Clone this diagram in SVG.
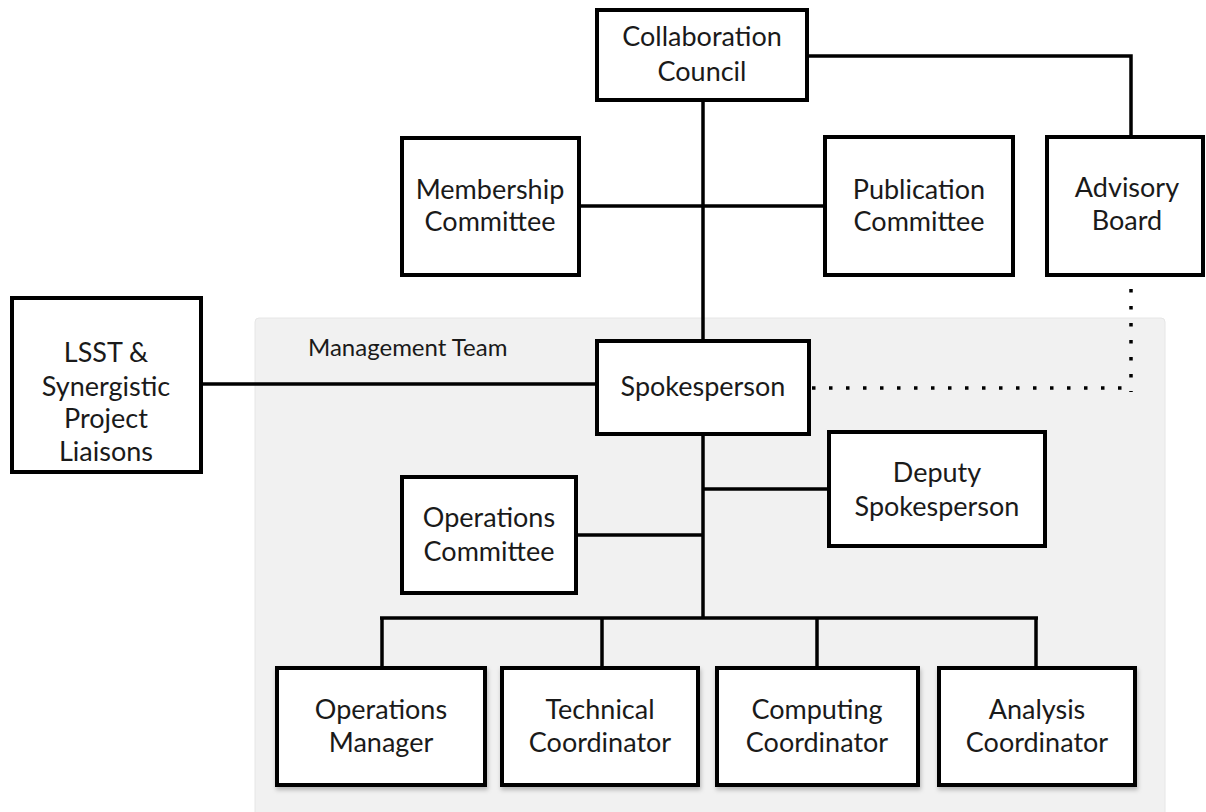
<svg xmlns="http://www.w3.org/2000/svg" width="1206" height="812" viewBox="0 0 1206 812">
<defs>
<style>
.box{fill:#fff;stroke:#000;stroke-width:4}
.t{font-family:Lato,"Noto Sans","Liberation Sans",sans-serif;font-size:27px;fill:#1a1a1a;text-anchor:middle}
.lbl{font-family:Lato,"Noto Sans","Liberation Sans",sans-serif;font-size:24px;fill:#1a1a1a}
.ln{stroke:#000;stroke-width:3.5;fill:none}
.dot{stroke:#000;stroke-width:3.5;fill:none;stroke-dasharray:3.5 13.5}
</style>
<filter id="sh" x="-5%" y="-5%" width="115%" height="120%">
<feDropShadow dx="1" dy="3" stdDeviation="2" flood-color="#000" flood-opacity="0.25"/>
</filter>
</defs>
<rect width="1206" height="812" fill="#fff"/>
<g id="management-team">
<rect x="255" y="318" width="910" height="500" rx="4" fill="#f1f1f1" stroke="#e6e6e6" stroke-width="1"/>
<text class="lbl" x="308" y="356">Management Team</text>
</g>
<g id="connectors">
<polyline class="ln" points="807,56 1131,56 1131,137"/>
<line class="ln" x1="703" y1="100" x2="703" y2="341"/>
<line class="ln" x1="579" y1="206" x2="825" y2="206"/>
<line class="ln" x1="201" y1="384" x2="597" y2="384"/>
<line class="dot" x1="1131" y1="289" x2="1131" y2="392"/>
<line class="dot" x1="812" y1="388" x2="1133" y2="388"/>
<line class="ln" x1="703" y1="434" x2="703" y2="618"/>
<line class="ln" x1="703" y1="489" x2="829" y2="489"/>
<line class="ln" x1="576" y1="535" x2="703" y2="535"/>
<line class="ln" x1="380" y1="618" x2="1038" y2="618"/>
<line class="ln" x1="382" y1="618" x2="382" y2="668"/>
<line class="ln" x1="602" y1="618" x2="602" y2="668"/>
<line class="ln" x1="817" y1="618" x2="817" y2="668"/>
<line class="ln" x1="1036" y1="618" x2="1036" y2="668"/>
</g>
<g id="collaboration-council">
<rect class="box" x="597" y="10" width="210" height="90"/>
<text class="t" x="702" y="46">Collaboration</text>
<text class="t" x="702" y="81">Council</text>
</g>
<g id="advisory-board">
<rect class="box" x="1047" y="137" width="156" height="138"/>
<text class="t" x="1127" y="197">Advisory</text>
<text class="t" x="1127" y="230">Board</text>
</g>
<g id="membership-committee">
<rect class="box" x="402" y="138" width="177" height="137"/>
<text class="t" x="490" y="199">Membership</text>
<text class="t" x="490" y="231">Committee</text>
</g>
<g id="publication-committee">
<rect class="box" x="825" y="137" width="188" height="138"/>
<text class="t" x="919" y="199">Publication</text>
<text class="t" x="919" y="231">Committee</text>
</g>
<g id="lsst-liaisons">
<rect class="box" x="12" y="298" width="189" height="174"/>
<text class="t" x="106" y="362">LSST &amp;</text>
<text class="t" x="106" y="396">Synergistic</text>
<text class="t" x="106" y="428">Project</text>
<text class="t" x="106" y="461">Liaisons</text>
</g>
<g id="spokesperson">
<rect class="box" x="597" y="341" width="212" height="93"/>
<text class="t" x="703" y="396">Spokesperson</text>
</g>
<g id="deputy-spokesperson">
<rect class="box" x="829" y="432" width="216" height="114"/>
<text class="t" x="937" y="482">Deputy</text>
<text class="t" x="937" y="516">Spokesperson</text>
</g>
<g id="operations-committee">
<rect class="box" x="402" y="477" width="174" height="116"/>
<text class="t" x="489" y="527">Operations</text>
<text class="t" x="489" y="561">Committee</text>
</g>
<g id="operations-manager">
<rect class="box" x="277" y="668" width="208" height="117" filter="url(#sh)"/>
<text class="t" x="381" y="719">Operations</text>
<text class="t" x="381" y="752">Manager</text>
</g>
<g id="technical-coordinator">
<rect class="box" x="502" y="668" width="196" height="117" filter="url(#sh)"/>
<text class="t" x="600" y="719">Technical</text>
<text class="t" x="600" y="752">Coordinator</text>
</g>
<g id="computing-coordinator">
<rect class="box" x="717" y="668" width="201" height="117" filter="url(#sh)"/>
<text class="t" x="817" y="719">Computing</text>
<text class="t" x="817" y="752">Coordinator</text>
</g>
<g id="analysis-coordinator">
<rect class="box" x="939" y="668" width="196" height="117" filter="url(#sh)"/>
<text class="t" x="1037" y="719">Analysis</text>
<text class="t" x="1037" y="752">Coordinator</text>
</g>
</svg>
